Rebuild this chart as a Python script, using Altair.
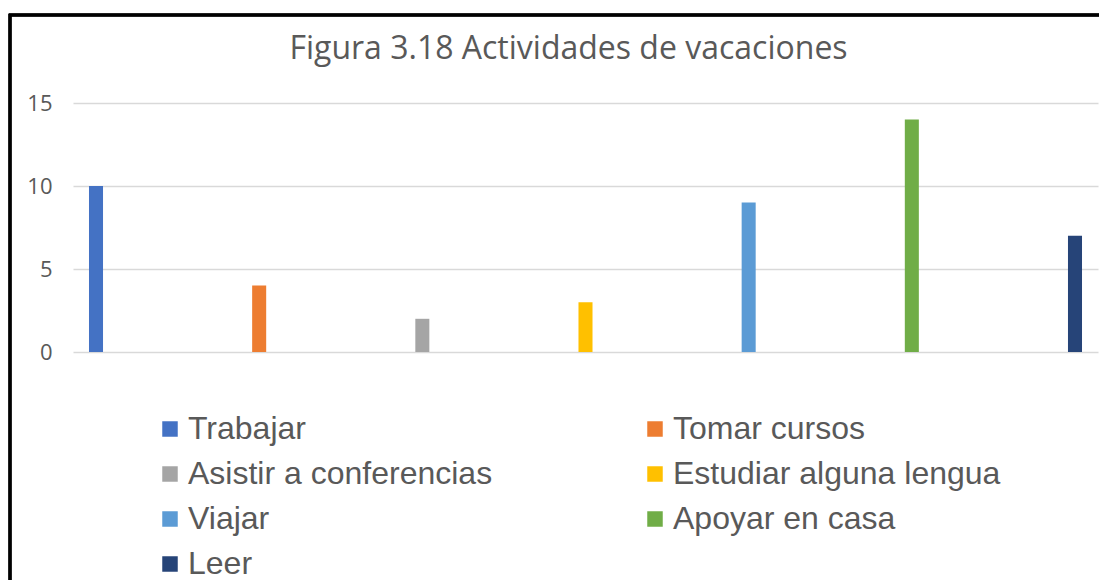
import altair as alt
import pandas as pd

categories = ["Trabajar", "Tomar cursos", "Asistir a conferencias", "Estudiar alguna lengua",
              "Viajar", "Apoyar en casa", "Leer"]
values = [10, 4, 2, 3, 9, 14, 7]
colors = ["#4472C4", "#ED7D31", "#A5A5A5", "#FFC000", "#5B9BD5", "#70AD47", "#264478"]
y_ticks = [0, 5, 10, 15]

df = pd.DataFrame({"actividad": categories, "valor": values})

W, H = 1025, 249

bars = alt.Chart(df).mark_bar().encode(
    x=alt.X("actividad:N", sort=categories, axis=None,
            scale=alt.Scale(paddingInner=0.914, paddingOuter=0.098)),
    y=alt.Y("valor:Q", scale=alt.Scale(domain=[0, 15], nice=False),
            axis=alt.Axis(values=y_ticks, title=None, domain=False, ticks=False,
                          labelFont="Open Sans", labelFontSize=22, labelColor="#595959",
                          labelPadding=21, gridColor="#D9D9D9", gridWidth=1.5)),
    color=alt.Color("actividad:N", sort=categories,
                    scale=alt.Scale(domain=categories, range=colors),
                    legend=alt.Legend(title=None, orient="none", legendX=81, legendY=310,
                                      direction="horizontal",
                                      columns=2, columnPadding=146, rowPadding=13,
                                      symbolType="square", symbolSize=240, symbolStrokeWidth=0,
                                      labelFont="Liberation Sans", labelFontSize=32,
                                      labelColor="#595959", labelOffset=2, labelLimit=500,
                                      padding=0)),
)

frame = alt.Chart(df).mark_rect(fill=None, stroke="black", strokeWidth=2.5).encode(
    x=alt.value(-63), x2=alt.value(1060), y=alt.value(-88), y2=alt.value(520)
)

chart = alt.layer(frame, bars).properties(
    width=W, height=H,
    autosize=alt.AutoSizeParams(type="none"),
    padding={"left": 65, "top": 95, "right": 1, "bottom": 228},
    title=alt.TitleParams("Figura 3.18 Actividades de vacaciones", font="Open Sans",
                          fontSize=32, fontWeight="normal", color="#595959",
                          anchor="middle", dx=-17, offset=22, dy=74),
).configure_view(stroke=None)

chart.save("out.html", embed_options={"renderer": "svg", "actions": False})
